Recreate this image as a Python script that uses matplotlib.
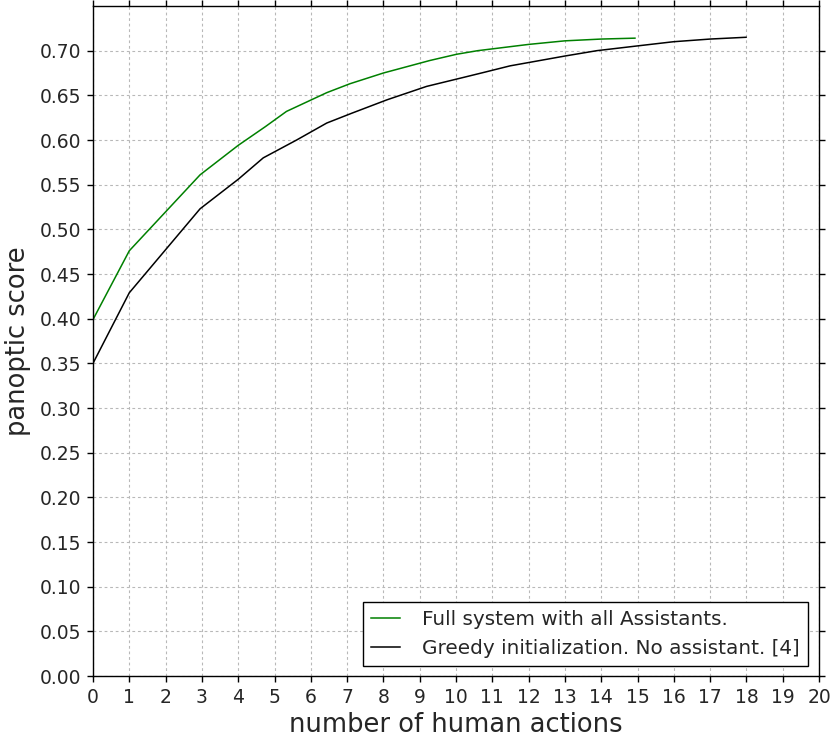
import matplotlib
matplotlib.use("Agg")
import matplotlib.pyplot as plt

# Data
full_x = [0, 1, 2.95, 4.0, 4.75, 5.33, 6.44, 7.08, 8.0, 9.28, 10.02, 10.6, 11.0, 12.0, 13.0, 14.0, 14.93]
full_y = [0.399, 0.476, 0.561, 0.594, 0.615, 0.632, 0.653, 0.663, 0.675, 0.689, 0.696, 0.700, 0.702, 0.707, 0.711, 0.713, 0.714]

greedy_x = [0, 1, 2.95, 4.0, 4.69, 5.61, 6.44, 7.13, 8.1, 9.19, 10.2, 10.8, 11.49, 12.04, 13.0, 13.88, 14.93, 15.99, 17.0, 17.99]
greedy_y = [0.350, 0.429, 0.523, 0.556, 0.580, 0.600, 0.619, 0.630, 0.645, 0.660, 0.670, 0.676, 0.683, 0.687, 0.694, 0.700, 0.705, 0.710, 0.713, 0.715]

labels = ["Full system with all Assistants.", "Greedy initialization. No assistant. [4]"]
xticks = list(range(0, 21))
yticks = [round(0.05 * i, 2) for i in range(15)]

plt.rcParams['font.family'] = ['DejaVu Sans']
text_color = '#262626'

fig = plt.figure(figsize=(8.38, 7.43), dpi=100)
ax = fig.add_axes([93/838, 67/743, 726/838, 670/743])

ax.plot(full_x, full_y, color='#008000', lw=1.1, label=labels[0])
ax.plot(greedy_x, greedy_y, color='black', lw=1.1, label=labels[1])

ax.set_xlim(0, 20)
ax.set_ylim(0, 0.75)
ax.set_xticks(xticks)
ax.set_yticks(yticks)
ax.set_yticklabels([f"{v:.2f}" for v in yticks])

ax.grid(True, color='#b8b8b8', linestyle=(0, (2.5, 2.5)), linewidth=0.8)
ax.set_axisbelow(True)

for s in ax.spines.values():
    s.set_linewidth(1.0)
    s.set_color('black')

ax.tick_params(axis='both', which='both', direction='out', length=4.5, width=1.0,
               top=True, right=True, labeltop=False, labelright=False,
               labelsize=13.5, labelcolor=text_color, color='black', pad=4)

ax.set_xlabel("number of human actions", fontsize=18.5, color=text_color, labelpad=4)
ax.set_ylabel("panoptic score", fontsize=18.5, color=text_color, labelpad=6)

leg = ax.legend(loc='lower right', bbox_to_anchor=((808-93)/726, (676-666)/670),
                borderaxespad=0, fontsize=14.4, handlelength=1.42, handletextpad=1.13,
                borderpad=0.4, labelspacing=0.5, fancybox=False, framealpha=1,
                edgecolor='black')
leg.get_frame().set_linewidth(1.0)
for t in leg.get_texts():
    t.set_color(text_color)

fig.savefig("out.png", dpi=100)
